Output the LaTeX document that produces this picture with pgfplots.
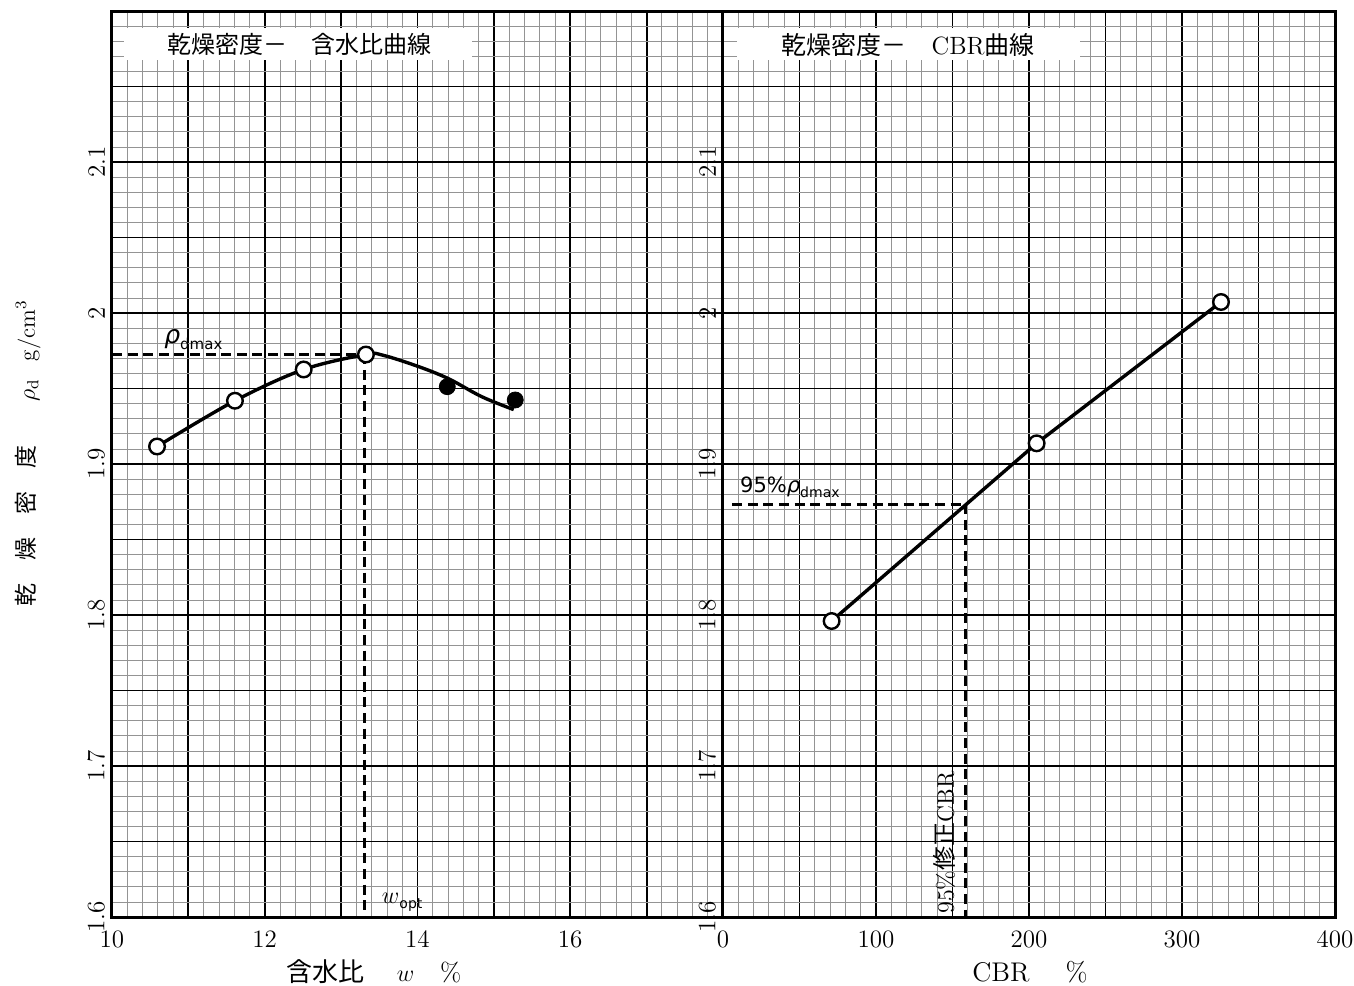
\documentclass[border=0pt]{standalone}
\usepackage{pgfplots}
\pgfplotsset{compat=1.18}
\usepackage{fontspec}
\newfontfamily\cjk{Noto Sans CJK JP}
\newfontfamily\dv{DejaVu Sans}
\begin{document}
\begin{tikzpicture}
\path[use as bounding box] (-56pt,-34pt) rectangle (621pt,458.5pt);
\pgfplotsset{
  common/.style={
    scale only axis, height=453pt,
    ymin=1.6, ymax=2.2,
    ytick={1.6,1.65,1.7,1.75,1.8,1.85,1.9,1.95,2.0,2.05,2.1,2.15,2.2},
    yticklabels={1.6,,1.7,,1.8,,1.9,,2,,2.1,,},
    minor y tick num=4, minor x tick num=4,
    grid=both,
    major grid style={black, line width=0.95pt},
    minor grid style={black!42, line width=0.4pt},
    axis line style={black, line width=1.5pt},
    major tick length=0pt, minor tick length=0pt,
    tick label style={font=\fontsize{12.5}{13}\selectfont},
    yticklabel style={rotate=90, anchor=south},
    xticklabel style={anchor=north, yshift=-3.5pt},
    clip=false,
  },
  hollow/.style={only marks, mark=*, mark size=3.9pt, mark options={fill=white, draw=black, line width=1.2pt}},
  solid/.style={only marks, mark=*, mark size=4pt, mark options={fill=black, draw=black}},
  dsh/.style={black, line width=1.5pt, dash pattern=on 5pt off 2.8pt},
}
\begin{axis}[common, name=L, width=305.5pt,
  xmin=10, xmax=18,
  xtick={10,11,...,18}, xticklabels={10,,12,,14,,16,,},
  xlabel={{\cjk\fontsize{13}{14}\selectfont 含水比}\hspace{16pt}$w$\hspace{13pt}\%},
  xlabel style={at={(axis description cs:0.429,-0.0606)}, anchor=center, font=\fontsize{13}{14}\selectfont},
  ylabel={{\cjk 乾　燥　密　度}\hspace{22pt}$\rho_{\mathrm{d}}$\hspace{9pt}g/cm$^3$},
  ylabel style={at={(axis description cs:-0.1375,0.5116)}, anchor=center, rotate=0, font=\fontsize{11.5}{12}\selectfont},
]
\node[fill=white, inner sep=0pt, minimum width=174pt, minimum height=16pt] at (axis cs:12.44,2.1782) {};
\node[inner sep=0pt, font=\cjk\fontsize{12}{13}\selectfont] at (axis cs:12.45,2.1777) {乾燥密度－　含水比曲線};
\addplot[dsh] coordinates {(10,1.9727) (13.31,1.9727)};
\addplot[dsh] coordinates {(13.31,1.9727) (13.31,1.6)};
\addplot[black, line width=1.7pt, smooth, tension=0.55] coordinates {
  (10.59,1.9116) (11.61,1.9419) (12.51,1.9626) (13.325,1.9725) (13.55,1.9720)
  (14.02,1.9644) (14.41,1.9564) (14.84,1.9446) (15.26,1.936)};
\addplot[hollow] coordinates {(10.59,1.9116) (11.61,1.9419) (12.51,1.9626) (13.325,1.9725)};
\addplot[solid] coordinates {(14.39,1.9512) (15.28,1.9424)};
\node[anchor=south west, inner sep=0pt] at (axis cs:10.68,1.9755)
  {\fontsize{12.5}{12.5}\selectfont\dv\itshape ρ\raisebox{-0.4ex}{\upshape\fontsize{7.5}{8}\selectfont dmax}};
\node[anchor=south west, inner sep=0pt] at (axis cs:13.53,1.6035)
  {\fontsize{13}{13}\selectfont$w$\raisebox{-0.45ex}{\dv\fontsize{7}{8}\selectfont opt}};
\end{axis}
\begin{axis}[common, at={(L.south east)}, anchor=south west, width=306pt,
  xmin=0, xmax=400,
  xtick={0,50,...,400}, xticklabels={0,,100,,200,,300,,400},
  xlabel={CBR\hspace{18pt}\%},
  xlabel style={at={(axis description cs:0.5016,-0.0606)}, anchor=center, font=\fontsize{13.5}{14}\selectfont},
]
\node[fill=white, inner sep=0pt, minimum width=171.5pt, minimum height=16pt] at (axis cs:121.2,2.1782) {};
\node[inner sep=0pt, font=\fontsize{12.5}{13}\selectfont] at (axis cs:121,2.1777) {{\cjk 乾燥密度－　}CBR{\cjk 曲線}};
\addplot[dsh] coordinates {(6,1.8735) (158.6,1.8735)};
\addplot[dsh] coordinates {(158.6,1.8735) (158.6,1.6)};
\addplot[black, line width=1.7pt] coordinates {(71.0,1.796) (205.0,1.9137) (325.5,2.0073)};
\addplot[hollow] coordinates {(71.0,1.796) (205.0,1.9137) (325.5,2.0073)};
\node[anchor=south west, inner sep=0pt] at (axis cs:11,1.8775)
  {\fontsize{10.5}{11}\selectfont\dv 95\%{\itshape ρ}\raisebox{-0.4ex}{\fontsize{7}{8}\selectfont dmax}};
\node[rotate=90, anchor=west, inner sep=0pt, font=\fontsize{12}{13}\selectfont] at (axis cs:145,1.602)
  {95\%{\cjk 修正}CBR};
\end{axis}
\end{tikzpicture}
\end{document}
